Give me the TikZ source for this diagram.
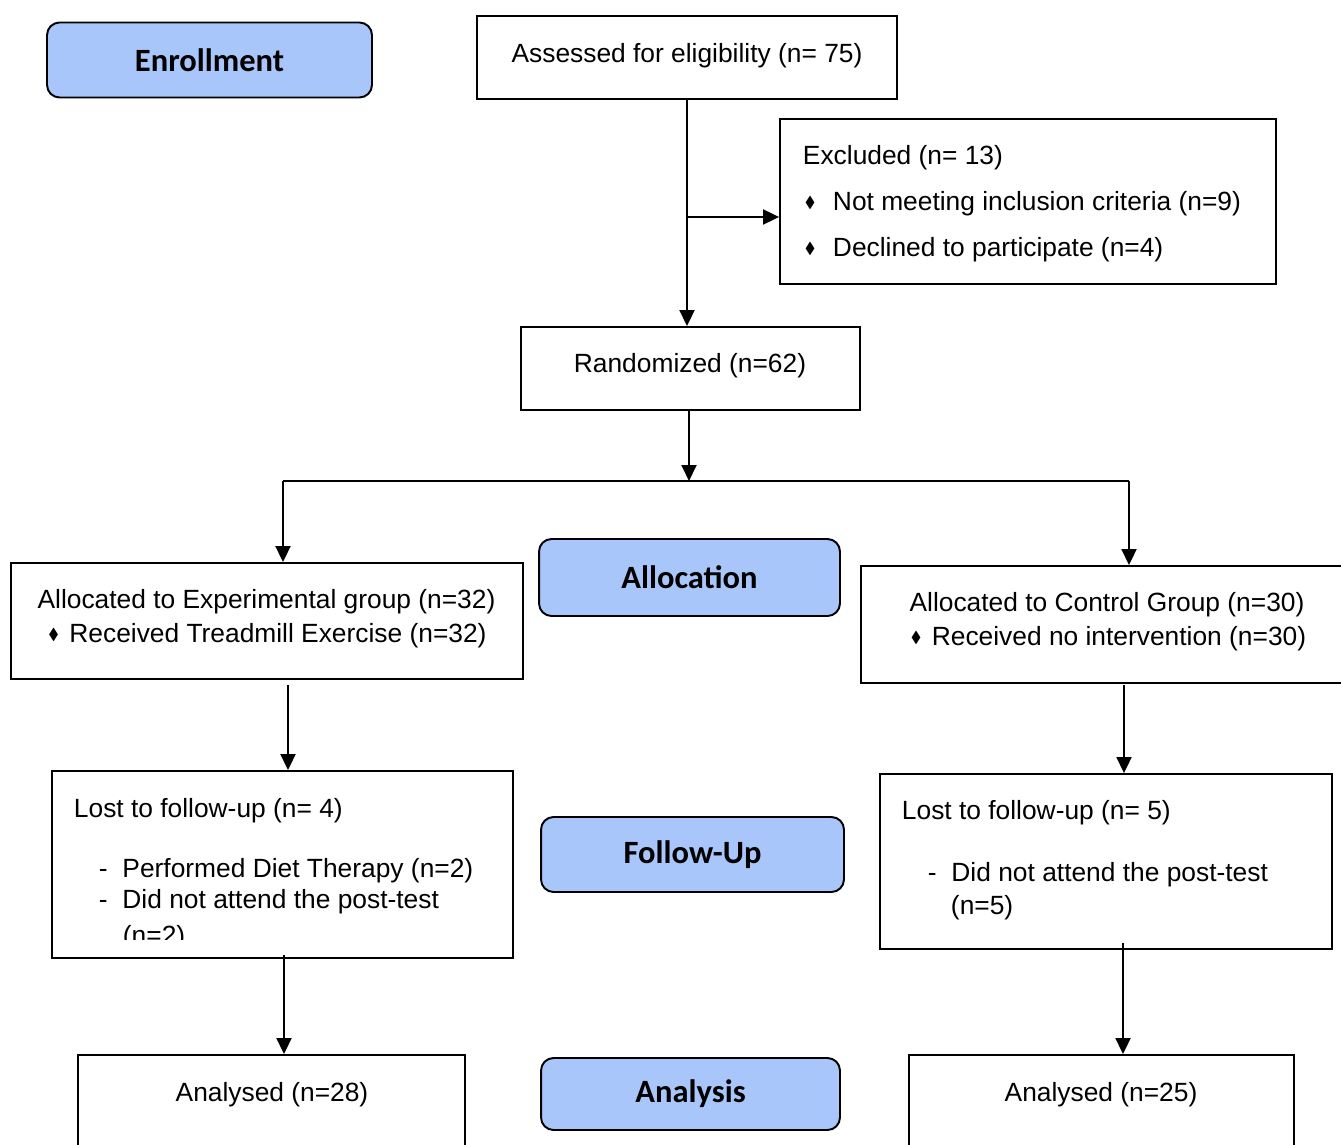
\documentclass[tikz,border=0pt]{standalone}
\usepackage{amssymb}
\usepackage{graphicx}
\usepackage{fontspec}
\setmainfont{Liberation Sans}
\newfontfamily\stagefont{Carlito}
\usepackage{tikz}
\usetikzlibrary{arrows.meta, calc}
\definecolor{stageblue}{RGB}{169,198,250}
\newcommand{\dmd}[1][0.42cm]{\makebox[#1][l]{\raisebox{0.06cm}{\scalebox{0.6}{$\blacklozenge$}}}}
\newcommand{\dsh}{\makebox[0.47cm][l]{-}}

\begin{document}
\begin{tikzpicture}[x=0.02cm, y=-0.02cm, line width=1.1pt,
	box/.style={draw, rectangle, inner sep=0pt},
	stage/.style={draw, rounded corners=0.25cm, fill=stageblue, inner sep=0pt, font=\stagefont\bfseries\fontsize{18.5}{22}\selectfont},
	txt/.style={inner sep=0pt, yshift=-0.06cm, font=\fontsize{15}{18}\selectfont},
	arr/.style={-{Triangle[length=0.32cm, width=0.3cm]}}]
	\useasboundingbox (0,0) rectangle (1341,1145);
	
	%Etapas
	\node[stage, minimum width=6.5cm, minimum height=1.5cm] (enroll) at (209.5,60) {Enrollment};
	\node[stage, minimum width=6.02cm, minimum height=1.54cm] (alloc) at (689.5,577.5) {Allocation};
	\node[stage, minimum width=6.06cm, minimum height=1.5cm] (follow) at (692.5,854.5) {Follow-Up};
	\node[stage, minimum width=5.98cm, minimum height=1.44cm] (analysis) at (690.5,1094) {Analysis};
	
	%Cajas
	\node[box, minimum width=8.4cm, minimum height=1.66cm] (assess) at (687,57.5) {};
	\node[box, minimum width=9.92cm, minimum height=3.3cm] (excl) at (1028,201.5) {};
	\node[box, minimum width=6.78cm, minimum height=1.66cm] (rand) at (690.5,368.5) {};
	\node[box, minimum width=10.24cm, minimum height=2.32cm] (allocexp) at (267,621) {};
	\node[box, minimum width=9.9cm, minimum height=2.34cm] (allocctl) at (1108.5,624.5) {};
	\node[box, minimum width=9.22cm, minimum height=3.74cm] (lostexp) at (282.5,864.5) {};
	\node[box, minimum width=9.04cm, minimum height=3.5cm] (lostctl) at (1106,861.5) {};
	\node[box, minimum width=7.74cm, minimum height=2.2cm] (anaexp) at (271.5,1110) {};
	\node[box, minimum width=7.7cm, minimum height=2.2cm] (anactl) at (1101.5,1110) {};
	
	%Textos
	\node[txt] (assesst) at (687,53) {Assessed for eligibility (n= 75)};
	\node[txt, anchor=west] (exclt) at (802,155) {Excluded (n= 13)};
	\node[txt, anchor=west] (exclta) at (804,201) {\dmd[0.56cm]Not meeting inclusion criteria (n=9)};
	\node[txt, anchor=west] (excltb) at (804,247) {\dmd[0.56cm]Declined to participate (n=4)};
	\node[txt] (randt) at (690,363) {Randomized (n=62)};
	\node[txt] (allocexpt) at (266.5,599) {Allocated to Experimental group (n=32)};
	\node[txt] (allocexpta) at (267.5,633) {\dmd Received Treadmill Exercise (n=32)};
	\node[txt] (allocctlt) at (1107,602) {Allocated to Control Group (n=30)};
	\node[txt] (allocctlta) at (1108.5,636) {\dmd Received no intervention (n=30)};
	\node[txt, anchor=west] (lostexpt) at (73,808) {Lost to follow-up (n= 4)};
	\node[txt, anchor=west] (lostexpta) at (98,868) {\dsh Performed Diet Therapy (n=2)};
	\node[txt, anchor=west] (lostexptb) at (98,899) {\dsh Did not attend the post-test};
	\begin{scope}
		\clip (52,771) rectangle (513,939);
		\node[txt, anchor=west] (lostexptc) at (122,935) {(n=2)};
	\end{scope}
	\node[txt, anchor=west] (lostctlt) at (901,810) {Lost to follow-up (n= 5)};
	\node[txt, anchor=west] (lostctlta) at (927,872) {\dsh Did not attend the post-test};
	\node[txt, anchor=west] (lostctltb) at (950,905) {(n=5)};
	\node[txt] (anaexpt) at (272,1092) {Analysed (n=28)};
	\node[txt] (anactlt) at (1101,1092) {Analysed (n=25)};
	
	%Flechas
	\coordinate (brk) at (687,217);
	\coordinate (split) at (689,481);
	\coordinate (splitL) at (283,481);
	\coordinate (splitR) at (1129,481);
	\coordinate (e1) at (288,685);
	\coordinate (c1) at (1124,685);
	\coordinate (e2) at (284,955);
	\coordinate (c2) at (1123,943);
	
	\draw[arr] (assess.south) -- (assess.south |- rand.north);
	\draw[arr] (brk) -- (brk -| excl.west);
	\draw[arr] (split |- rand.south) -- (split);
	\draw (splitL) -- (splitR);
	\draw[arr] (splitL) -- (splitL |- allocexp.north);
	\draw[arr] (splitR) -- (splitR |- allocctl.north);
	\draw[arr] (e1) -- (e1 |- lostexp.north);
	\draw[arr] (c1) -- (c1 |- lostctl.north);
	\draw[arr] (e2) -- (e2 |- anaexp.north);
	\draw[arr] (c2) -- (c2 |- anactl.north);
\end{tikzpicture}
\end{document}
